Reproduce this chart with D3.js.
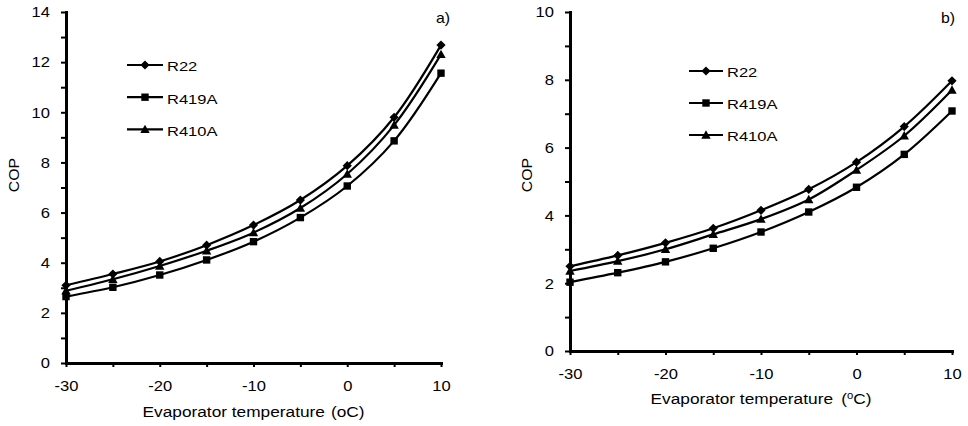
<!DOCTYPE html>
<html><head><meta charset="utf-8">
<script src="https://cdn.jsdelivr.net/npm/d3@7"></script>
<style>body{margin:0;background:#fff}svg{display:block}text{font-family:"Liberation Sans",Arial,sans-serif;fill:#000}</style>
</head><body><svg id="c" width="968" height="426"></svg>
<script>
const temps = [-30, -25, -20, -15, -10, -5, 0, 5, 10];
const seriesNames = ["R22", "R419A", "R410A"];
const copA_R22   = [3.10, 3.55, 4.05, 4.70, 5.50, 6.50, 7.87, 9.80, 12.68];
const copA_R419A = [2.65, 3.02, 3.51, 4.11, 4.84, 5.80, 7.06, 8.86, 11.56];
const copA_R410A = [2.88, 3.34, 3.87, 4.48, 5.20, 6.18, 7.54, 9.49, 12.31];
const copB_R22   = [2.50, 2.82, 3.19, 3.62, 4.15, 4.77, 5.57, 6.62, 7.97];
const copB_R419A = [2.03, 2.31, 2.63, 3.03, 3.51, 4.10, 4.83, 5.80, 7.08];
const copB_R410A = [2.36, 2.65, 3.00, 3.44, 3.89, 4.47, 5.34, 6.35, 7.70];
const xTicks = [-30, -25, -20, -15, -10, -5, 0, 5, 10];

const svg = d3.select("#c");
const markers = {
  R22: "M0,-4.6L4.6,0L0,4.6L-4.6,0Z",
  R419A: "M-3.7,-3.7H3.7V3.7H-3.7Z",
  R410A: "M0,-4.7L4.7,3.7H-4.7Z"
};
const SX = 1.2;

function panel(cfg) {
  const g = svg.append("g");
  const x = d3.scaleLinear().domain([-30, 10]).range([cfg.x0, cfg.x1]);
  const y = d3.scaleLinear().domain([0, cfg.ymax]).range([cfg.y0, cfg.y1]);

  const ya = g.append("g").attr("transform", `translate(${cfg.x0},0)`)
    .call(d3.axisLeft(y).tickValues(d3.range(0, cfg.ymax + 1, 1)).tickSize(5).tickSizeOuter(0)
      .tickFormat(d => d % 2 ? "" : d));
  ya.selectAll("text").attr("x", 0).attr("dy", 0)
    .attr("transform", `translate(-16,4.8) scale(${SX},1)`).style("font-size", "13.8px");
  const xa = g.append("g").attr("transform", `translate(0,${cfg.y0})`)
    .call(d3.axisBottom(x).tickValues(xTicks).tickSize(4).tickSizeOuter(0)
      .tickFormat(d => d % 10 ? "" : d));
  xa.selectAll("text").attr("y", 0).attr("dy", 0)
    .attr("transform", `translate(0,27.5) scale(${SX},1)`).style("font-size", "13.8px");
  g.selectAll(".domain").attr("stroke", "#000").attr("stroke-width", 3).attr("stroke-linecap", "square");
  g.selectAll(".tick line").attr("stroke", "#000").attr("stroke-width", 2);
  g.selectAll(".tick text").attr("fill", "#000");
  ya.attr("font-family", null); xa.attr("font-family", null);

  const line = d3.line().x((d, i) => x(temps[i])).y(d => y(d)).curve(d3.curveCatmullRom.alpha(0.5));
  cfg.data.forEach((vals, si) => {
    const name = seriesNames[si];
    g.append("path").attr("d", line(vals)).attr("fill", "none").attr("stroke", "#000").attr("stroke-width", 2.2);
    g.selectAll(null).data(vals).enter().append("path")
      .attr("d", markers[name]).attr("fill", "#000")
      .attr("transform", (d, i) => `translate(${x(temps[i])},${y(d)})`);
    const ly = cfg.legY + si * cfg.legStep;
    g.append("line").attr("x1", cfg.legX0).attr("x2", cfg.legX1).attr("y1", ly).attr("y2", ly)
      .attr("stroke", "#000").attr("stroke-width", 2.2);
    g.append("path").attr("d", markers[name]).attr("fill", "#000")
      .attr("transform", `translate(${(cfg.legX0 + cfg.legX1) / 2},${ly})`);
    g.append("text").text(name).style("font-size", "13.3px")
      .attr("transform", `translate(${cfg.legX1 + 4},${ly + 6.3}) scale(1.24,1)`);
  });

  g.append("text").text("COP").style("font-size", "13.8px").attr("text-anchor", "middle")
    .attr("transform", `translate(${cfg.copX},175) rotate(-90) scale(1.15,1)`);
  g.append("text").text(cfg.label).style("font-size", "13.8px")
    .attr("transform", `translate(${cfg.labX},23) scale(1.15,1)`);
  const t = g.append("text").style("font-size", "15.3px").attr("text-anchor", "middle")
    .attr("transform", `translate(${(cfg.x0 + cfg.x1) / 2},${cfg.y0 + cfg.titleDy}) scale(1.13,1)`);
  t.append("tspan").text("Evaporator temperature ");
  if (cfg.sup) {
    t.append("tspan").attr("dx", 3).text("(");
    t.append("tspan").text("o").style("font-size", "10px").attr("dy", -5);
    t.append("tspan").text("C)").attr("dy", 5);
  } else {
    t.append("tspan").attr("dx", 1).text("(oC)");
  }
}

panel({x0: 66, x1: 441, y0: 363, y1: 12, ymax: 14,
  data: [copA_R22, copA_R419A, copA_R410A],
  legX0: 127, legX1: 163, legY: 65, legStep: 32.2,
  copX: 19, labX: 436, label: "a)", titleDy: 53.5, sup: false});
panel({x0: 570, x1: 952, y0: 351, y1: 12, ymax: 10,
  data: [copB_R22, copB_R419A, copB_R410A],
  legX0: 689, legX1: 723, legY: 71, legStep: 32,
  copX: 532, labX: 941, label: "b)", titleDy: 53.3, sup: true});
</script></body></html>
